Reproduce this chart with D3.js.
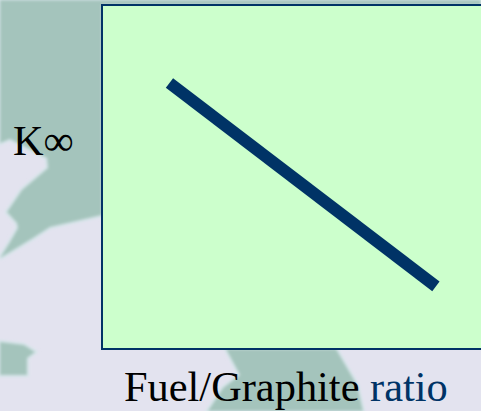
<!DOCTYPE html>
<html>
<head>
<meta charset="utf-8">
<script src="https://cdn.jsdelivr.net/npm/d3@7.9.0/dist/d3.min.js"></script>
<style>
  html, body { margin: 0; padding: 0; background: #e3e3ef; overflow: hidden; }
  text { font-family: "Liberation Serif", serif; font-size: 42.4px; }
</style>
</head>
<body>
<div id="chart"></div>
<script>
// the line (axes have no numbers so 0-1 across the frame)
const ratio = [0.178, 0.881];
const kInf = [0.773, 0.182];

// map in the background
const topLand = [[0,0],[481,0],[481,5],[102,5],[102,215],[50,227],[33,238],[10,252],[0,258],[10,242],[18,228],[17,223],[7,212],[22,190],[48,168],[47,158],[10,139],[0,143]];
const lowerLeftLand = [[0,342],[24,345],[35,352],[27,358],[27,375],[0,375]];
const bottomLand = [[226,349],[336,349],[357,385],[363,411],[208,411],[223,388],[240,375]];

const width = 481;
const height = 411;
const margin = { top: 5, right: 0, bottom: 62, left: 102 };

const svg = d3.select('#chart')
  .append('svg')
  .attr('width', width)
  .attr('height', height)
  .style('display', 'block');

const blur = svg.append('defs').append('filter').attr('id', 'soft');
blur.append('feGaussianBlur').attr('stdDeviation', 1.5);

const land = d3.line().curve(d3.curveLinearClosed);
svg.append('g')
  .attr('filter', 'url(#soft)')
  .selectAll('path')
  .data([topLand, lowerLeftLand, bottomLand])
  .join('path')
  .attr('d', land)
  .attr('fill', '#a4c4bc')
  .attr('stroke', '#d6e6ea')
  .attr('stroke-width', 4)
  .attr('paint-order', 'stroke');

const xScale = d3.scaleLinear().domain([0, 1]).range([margin.left, width - margin.right]);
const yScale = d3.scaleLinear().domain([0, 1]).range([height - margin.bottom, margin.top]);

svg.append('rect')
  .attr('x', xScale(0))
  .attr('y', yScale(1))
  .attr('width', xScale(1) - xScale(0) + 4)
  .attr('height', yScale(0) - yScale(1))
  .attr('fill', '#ccffcc')
  .attr('stroke', '#003366')
  .attr('stroke-width', 2);

const line = d3.line().x((d) => xScale(d[0])).y((d) => yScale(d[1]));
svg.append('path')
  .attr('d', line(d3.zip(ratio, kInf)))
  .attr('fill', 'none')
  .attr('stroke', '#003366')
  .attr('stroke-width', 12);

svg.append('text').attr('x', 13).attr('y', 155).attr('fill', '#000').text('K∞');

const xLabel = svg.append('text').attr('x', 124).attr('y', 401).attr('fill', '#000');
xLabel.append('tspan').text('Fuel/Graphite ');
xLabel.append('tspan').attr('fill', '#003366').text('ratio');
</script>
</body>
</html>
